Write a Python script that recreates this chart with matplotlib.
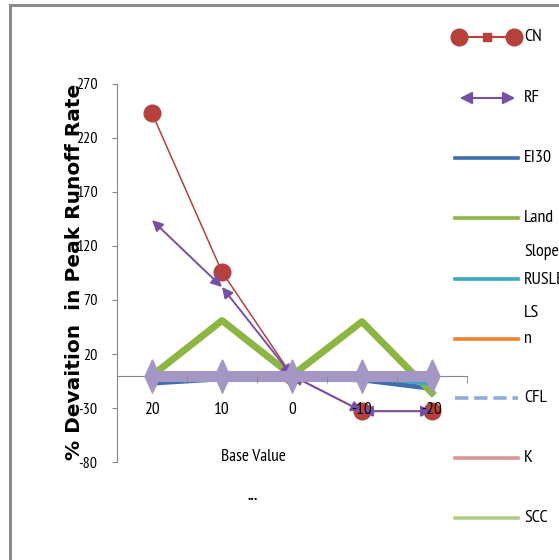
import matplotlib
matplotlib.use("Agg")
import matplotlib.pyplot as plt
from matplotlib.lines import Line2D
from matplotlib.patches import FancyArrowPatch

# narrow font, close to the squeezed Calibri of the original
plt.rcParams["font.family"] = ["PT Sans Narrow", "DejaVu Sans"]

base_values = ["20", "10", "0", "-10", "-20"]
cn = [243, 96, 0, -33, -33]
rf = [144, 82, 0, -33, -33]
ei30 = [-7, -3, -2, -4, -12]
land_slope = [0, 51, 0, 50, -16]
rusle_ls = [-3, -2, -1, -2, -8]
n_val = [0, 0, 0, 0, 0]
cfl = [0, 0, 0, 0, 0]
k_val = [0, 0, 0, 0, 0]
scc = [0, 0, 0, 0, 0]
p_val = [0, 0, 0, 0, 0]
y_ticks = [270, 220, 170, 120, 70, 20, -30, -80]

c_cn = "#b5403c"
c_rf = "#7650a6"
c_ei = "#3f6fb0"
c_land = "#8db543"
c_rusle = "#3ea6c2"
c_n = "#f0822e"
c_cfl = "#8eacd8"
c_k = "#d99694"
c_scc = "#b0cd86"
c_p = "#a597c4"

# tall narrow diamond like the Excel marker
tall_diamond = [(0, 1), (0.45, 0), (0, -1), (-0.45, 0), (0, 1)]

W, H = 559, 560
fig = plt.figure(figsize=(W / 100, H / 100), dpi=100)
ax = fig.add_axes([117 / W, 1 - 462 / H, 350 / W, 378 / H])

x = list(range(len(base_values)))

ax.plot(x, cn, color=c_cn, lw=1.1, marker="o", ms=12, mfc=c_cn, mec=c_cn, zorder=3)
for i in range(len(x) - 1):
    ax.annotate("", xy=(x[i + 1], rf[i + 1]), xytext=(x[i], rf[i]),
                arrowprops=dict(arrowstyle="<|-|>", color=c_rf, lw=1.4,
                                mutation_scale=16, shrinkA=0, shrinkB=0),
                zorder=3.1)
ax.plot(x, ei30, color=c_ei, lw=3.5, zorder=3)
ax.plot(x, land_slope, color=c_land, lw=5, zorder=3)
ax.plot(x, rusle_ls, color=c_rusle, lw=2.2, zorder=3)
ax.plot(x, n_val, color=c_n, lw=2.2, zorder=3)
ax.plot(x, cfl, color=c_cfl, lw=2.2, ls="--", zorder=3)
ax.plot(x, k_val, color=c_k, lw=2.2, zorder=3)
ax.plot(x, scc, color=c_scc, lw=2.2, zorder=3)
ax.plot(x, p_val, color=c_p, lw=8, marker=tall_diamond, ms=24, mfc=c_p, mec=c_p, zorder=3.2)

ax.set_xlim(-0.5, 4.5)
ax.set_ylim(-80, 270)
ax.set_yticks(y_ticks)
ax.set_yticklabels([str(v) for v in y_ticks], fontsize=11.5)
ax.tick_params(axis="y", length=3.6, color="#888888", pad=10.5)

for s in ["top", "right"]:
    ax.spines[s].set_visible(False)
ax.spines["left"].set_color("#888888")
ax.spines["bottom"].set_position(("data", 0))
ax.spines["bottom"].set_color("#888888")
ax.spines["bottom"].set_zorder(2)
ax.set_xticks(x)
ax.set_xticklabels(base_values, fontsize=12.5)
ax.set_xticks([i + 0.5 for i in x], minor=True)
ax.tick_params(axis="x", which="major", length=0, pad=19)
ax.tick_params(axis="x", which="minor", length=5, color="#888888")
ax.xaxis.set_zorder(5)

fig.text(75 / W, 1 - 272 / H, "% Devaition  in Peak Runoff Rate", rotation=90,
         ha="center", va="center", fontsize=14.5, fontweight="bold",
         family=["DejaVu Sans"])
fig.text(253 / W, 1 - 457 / H, "Base Value", ha="center", va="center", fontsize=12.5)
fig.text(253 / W, 1 - 496 / H, "...", ha="center", va="center", fontsize=11, fontweight="bold")

# legend drawn by hand, Excel style
def fx(px):
    return px / W


def fy(py):
    return 1 - py / H


x0, x1, tx = 455, 518, 524
fig.add_artist(Line2D([fx(x0), fx(x1)], [fy(37), fy(37)], color=c_cn, lw=1.5))
fig.add_artist(Line2D([fx(x0 + 4), fx(x1 - 4)], [fy(37), fy(37)], ls="none",
                      marker="o", ms=12, color=c_cn))
fig.add_artist(Line2D([fx((x0 + x1) / 2)], [fy(37)], ls="none", marker="s", ms=6, color=c_cn))
fig.add_artist(FancyArrowPatch((fx(x0 + 2), fy(98)), (fx(x1), fy(98)),
                               transform=fig.transFigure, arrowstyle="<|-|>",
                               mutation_scale=18, color=c_rf, lw=1.5))
simple = [(158, c_ei, "-"), (218, c_land, "-"), (279, c_rusle, "-"),
          (339, c_n, "-"), (398, c_cfl, "--"), (458, c_k, "-"), (518, c_scc, "-")]
for yy, col, style in simple:
    fig.add_artist(Line2D([fx(x0), fx(x1)], [fy(yy), fy(yy)], color=col, lw=2.6, ls=style))
texts = [(37, "CN"), (98, "RF"), (158, "EI30"), (218, "Land"), (252, "Slope"),
         (280, "RUSLE"), (313, "LS"), (339, "n"), (398, "CFL"), (458, "K"), (518, "SCC")]
for yy, t in texts:
    fig.text(fx(tx), fy(yy), t, ha="left", va="center", fontsize=13)

# outer chart border (top and left visible)
fig.add_artist(Line2D([fx(10), fx(10)], [fy(5), fy(H)], color="#8a8a8a", lw=2.2))
fig.add_artist(Line2D([fx(10), fx(W)], [fy(5), fy(5)], color="#8a8a8a", lw=2.2))

fig.savefig("out.png", dpi=100)
